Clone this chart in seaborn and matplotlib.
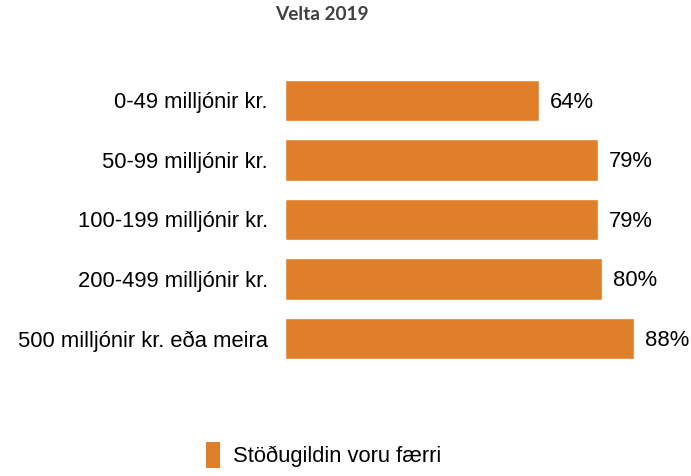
import pandas as pd
import matplotlib.pyplot as plt
import seaborn as sns
from matplotlib.patches import Patch

categories = ["0-49 milljónir kr.", "50-99 milljónir kr.", "100-199 milljónir kr.",
              "200-499 milljónir kr.", "500 milljónir kr. eða meira"]
values = [64, 79, 79, 80, 88]
series_name = "Stöðugildin voru færri"
title = "Velta 2019"

df = pd.DataFrame({"flokkur": categories, "hlutfall": values})

color = "#E07F2A"
sns.set_style("white")
plt.rcParams['font.family'] = ['Liberation Sans', 'DejaVu Sans']

fig = plt.figure(figsize=(6.91, 4.76), dpi=100)
ax = fig.add_axes([285 / 691, 0.2264, 396.6 / 691, 0.625])

sns.barplot(df, y="flokkur", x="hlutfall", color=color, saturation=1, width=0.69, ax=ax)
ax.set_xlim(0, 100)
ax.set_xlabel("")
ax.set_ylabel("")
ax.set_xticks([])
ax.tick_params(axis="y", length=0, labelsize=15.8, pad=12.5, labelcolor="#000000")
for s in ax.spines.values():
    s.set_visible(False)

for i, v in enumerate(values):
    ax.text(v + 2.7, i + 0.03, f"{v}%", va="center", ha="left", fontsize=15.8, color="#000000")

fig.text(322 / 691, 1 - 14 / 476, title, ha="center", va="center", fontsize=13.7,
         fontweight="bold", color="#404040", family=["Lato", "DejaVu Sans"])

fig.legend(handles=[Patch(facecolor=color, edgecolor="none")], labels=[series_name],
           loc="center left", bbox_to_anchor=(186 / 691, 1 - 455 / 476), frameon=False,
           fontsize=15.8, handlelength=0.65, handleheight=1.5, handletextpad=0.6,
           labelcolor="#000000")

fig.savefig("out.png", dpi=100)
